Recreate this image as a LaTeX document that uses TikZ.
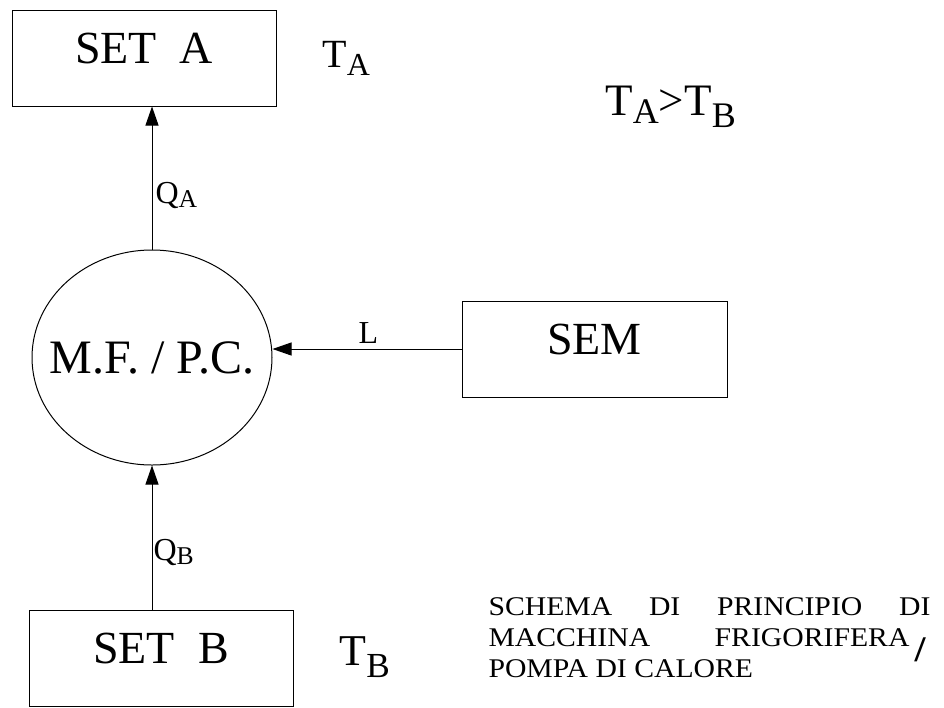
\documentclass[tikz,border=0pt]{standalone}
\usepackage{fontspec}
\usepackage{graphicx}
\setmainfont{Liberation Serif}
\newfontfamily\blockfont{Liberation Serif}[FakeStretch=1.1]
\usetikzlibrary{arrows.meta,shapes.geometric,calc}
\newcommand{\mysub}[2][0.28em]{\raisebox{-#1}{\scalebox{0.8}{#2}}}
\begin{document}
\begin{tikzpicture}[x=1pt,y=-1pt,line width=1pt,
  box/.style={draw, rectangle, minimum width=264pt, minimum height=96pt, inner sep=0pt,
    text height=30pt, text depth=20pt, font=\fontsize{46}{46}\selectfont},
  arr/.style={-{Triangle[length=19pt,width=13pt]}},
  lbl/.style={anchor=base west, inner sep=0pt},
  blk/.style={anchor=base west, inner sep=0pt, font=\blockfont\fontsize{27}{30}\selectfont}]
\useasboundingbox (0,0) rectangle (944,707);
\node[box] (setA) at (144,58) {SET\ \ A};
\node[box] (setB) at (161,658) {SET\ \ B};
\node[box, minimum width=265pt] (sem) at (594.5,349) {SEM};
\node[draw, ellipse, minimum width=240pt, minimum height=215pt, inner sep=0pt,
  label={[font=\fontsize{48}{48}\selectfont]center:M.F. / P.C.}] (mf) at (152,357.5) {};
\draw[arr] (mf.north) -- (mf.north |- setA.south);
\draw[arr] (mf.south |- setB.north) -- (mf.south);
\draw[arr] (sem.west) -- (sem.west -| mf.east);
\node[lbl, font=\fontsize{40}{40}\selectfont] (ta) at (322,67) {T\mysub[0.2em]{A}};
\node[lbl, font=\fontsize{45}{45}\selectfont] (tab) at (605,115) {T\mysub[0.18em]{A}>T\mysub{B}};
\node[lbl, font=\fontsize{44}{44}\selectfont] (tb) at (339,665) {T\mysub{B}};
\node[lbl, font=\fontsize{32}{32}\selectfont] (qa) at (155,203) {Q\mysub[0.15em]{A}};
\node[lbl, font=\fontsize{32}{32}\selectfont] (qb) at (153,560) {Q\mysub[0.15em]{B}};
\node[lbl, font=\fontsize{32}{32}\selectfont] (l) at (358,343) {L};
\node[blk] (c1) at (488,615) {\makebox[442pt][s]{SCHEMA DI PRINCIPIO DI}};
\node[blk] (c2) at (488,646) {\makebox[437pt][s]{MACCHINA FRIGORIFERA\kern5pt\raisebox{-15pt}{\fontsize{36}{36}\selectfont\bfseries /}}};
\node[blk] (c3) at (488,677) {POMPA DI CALORE};
\end{tikzpicture}
\end{document}
